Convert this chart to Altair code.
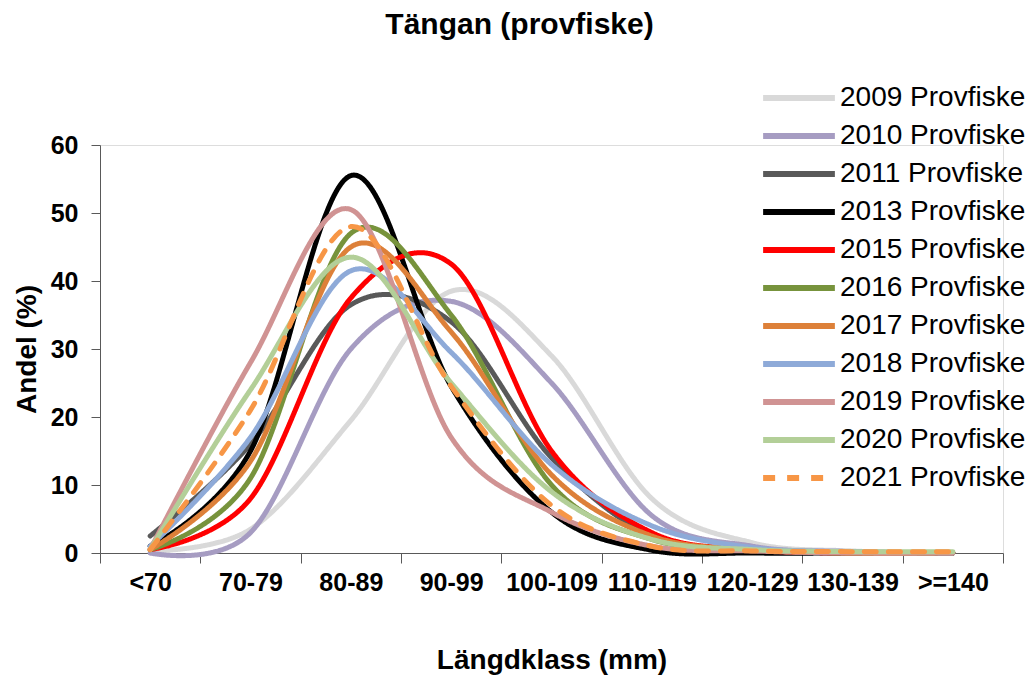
import json
import altair as alt
import pandas as pd

categories = ["<70", "70-79", "80-89", "90-99", "100-109", "110-119", "120-129", "130-139", ">=140"]
series = ["2009 Provfiske", "2010 Provfiske", "2011 Provfiske", "2013 Provfiske", "2015 Provfiske",
          "2016 Provfiske", "2017 Provfiske", "2018 Provfiske", "2019 Provfiske", "2020 Provfiske",
          "2021 Provfiske"]

v2009 = [0.3, 3.5, 19.5, 38.5, 29.0, 8.0, 1.5, 0.3, 0.0]
v2010 = [0.0, 3.0, 30.0, 37.0, 25.0, 5.5, 1.0, 0.2, 0.0]
v2011 = [2.5, 16.0, 36.5, 34.0, 14.0, 2.5, 0.5, 0.0, 0.0]
v2013 = [1.0, 15.0, 55.5, 24.5, 6.0, 0.4, 0.0, 0.0, 0.0]
v2015 = [0.5, 8.0, 37.5, 42.5, 15.0, 3.0, 0.5, 0.0, 0.0]
v2016 = [0.5, 11.0, 47.0, 35.0, 10.0, 2.0, 0.5, 0.0, 0.0]
v2017 = [0.5, 13.5, 45.0, 32.5, 11.5, 2.5, 0.5, 0.0, 0.0]
v2018 = [1.0, 17.0, 41.5, 29.5, 13.0, 4.0, 0.8, 0.2, 0.0]
v2019 = [0.5, 28.0, 50.5, 17.0, 6.0, 1.0, 0.3, 0.0, 0.0]
v2020 = [0.5, 24.0, 43.5, 25.0, 9.0, 2.0, 0.5, 0.2, 0.2]
v2021 = [0.5, 21.0, 48.0, 24.5, 7.0, 1.0, 0.3, 0.2, 0.2]
values = [v2009, v2010, v2011, v2013, v2015, v2016, v2017, v2018, v2019, v2020, v2021]

colors = ["#d9d9d9", "#a69cc2", "#595959", "#000000", "#ff0000", "#77933c",
          "#dd8039", "#8eaad8", "#d09393", "#b3cf98", "#f79646"]
dashes = [[1, 0]] * 10 + [[12, 12]]

y_ticks = [0, 10, 20, 30, 40, 50, 60]

rows = []
for name, vals in zip(series, values):
    for i, (c, v) in enumerate(zip(categories, vals)):
        rows.append({"serie": name, "pos": i + 0.5, "klass": c, "andel": v})
df = pd.DataFrame(rows)

FONT = "Liberation Sans"
AXIS_COLOR = "#595959"

tick_values = [i * 0.5 for i in range(2 * len(categories) + 1)]
label_expr = "datum.value % 1 ? " + json.dumps(categories) + "[floor(datum.value)] : ''"

legend = alt.Legend(
    title=None,
    orient="none",
    legendX=675.5,
    legendY=-70.5,
    symbolType="M-1.75,0L1.75,0",
    symbolSize=1681,
    symbolStrokeWidth=6,
    labelFont=FONT,
    labelFontSize=28,
    labelColor="black",
    labelOffset=17.5,
    labelLimit=400,
    rowPadding=0,
    padding=0,
    symbolLimit=20,
)

chart = alt.Chart(df).mark_line(
    interpolate="cardinal", strokeWidth=5, strokeCap="round"
).encode(
    x=alt.X(
        "pos:Q",
        scale=alt.Scale(domain=[0, len(categories)], nice=False, zero=False),
        axis=alt.Axis(
            values=tick_values,
            labelExpr=label_expr,
            labelOverlap=False,
            labelFlush=False,
            tickSize=10,
            tickOpacity={"condition": {"test": "datum.value % 1 !== 0", "value": 0}, "value": 1},
            grid=False,
            domainColor=AXIS_COLOR,
            tickColor=AXIS_COLOR,
            labelFont=FONT,
            labelFontSize=25,
            labelFontWeight="bold",
            labelColor="black",
            labelPadding=7,
            title="Längdklass (mm)",
            titleFont=FONT,
            titleFontSize=28,
            titleFontWeight="bold",
            titleColor="black",
            titleY=107,
            titleBaseline="middle",
        ),
    ),
    y=alt.Y(
        "andel:Q",
        scale=alt.Scale(domain=[0, 60], nice=False),
        axis=alt.Axis(
            values=y_ticks,
            grid=False,
            tickSize=9,
            domainColor=AXIS_COLOR,
            tickColor=AXIS_COLOR,
            labelFont=FONT,
            labelFontSize=25,
            labelFontWeight="bold",
            labelColor="black",
            labelPadding=13,
            title="Andel (%)",
            titleFont=FONT,
            titleFontSize=28,
            titleFontWeight="bold",
            titleColor="black",
            titleX=-73,
            titleY=204,
            titleBaseline="middle",
        ),
    ),
    color=alt.Color("serie:N", scale=alt.Scale(domain=series, range=colors), legend=legend),
    strokeDash=alt.StrokeDash("serie:N", scale=alt.Scale(domain=series, range=dashes), legend=legend),
    detail="serie:N",
).properties(
    width=903,
    height=408,
    title=alt.TitleParams(
        "Tängan (provfiske)",
        font=FONT,
        fontSize=30,
        fontWeight="bold",
        color="black",
        anchor="middle",
        frame="group",
        offset=35,
        dx=-32,
    ),
    autosize=alt.AutoSizeParams(type="none"),
    padding={"left": 100, "top": 145, "right": 31, "bottom": 129},
).configure_view(stroke=None).configure(background="white")

chart.save("out.html", embed_options={"renderer": "svg", "actions": False})
